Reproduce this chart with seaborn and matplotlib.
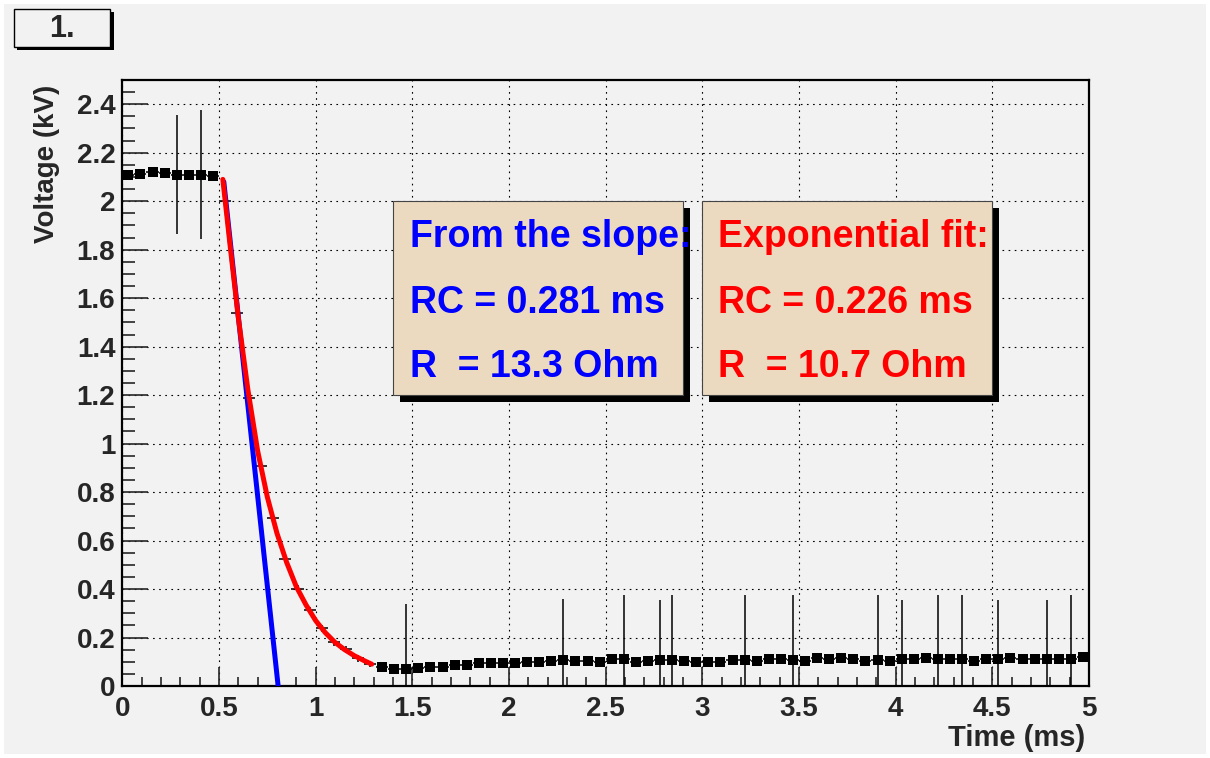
import numpy as np
import matplotlib
matplotlib.use("Agg")
import matplotlib.pyplot as plt
from matplotlib.patches import Rectangle
from matplotlib.ticker import MultipleLocator, FuncFormatter
import seaborn as sns

# histogram binning: 80 bins of 0.0625 ms between 0 and 5 ms
bin_width = 0.0625
n_bins = 80

# measured voltage per bin (kV)
voltage = [2.107, 2.114, 2.121, 2.117, 2.110, 2.110, 2.110, 2.103,
           2.000, 1.540, 1.190, 0.907, 0.692, 0.524, 0.401, 0.313, 0.238,
           0.180, 0.151, 0.114, 0.091,
           0.077, 0.069, 0.069, 0.073, 0.080, 0.080, 0.087, 0.087, 0.094, 0.096,
           0.094, 0.096, 0.100, 0.100, 0.103, 0.107, 0.103, 0.103, 0.099, 0.110,
           0.110, 0.099, 0.104, 0.109, 0.109, 0.104, 0.099, 0.100, 0.100, 0.107,
           0.109, 0.103, 0.113, 0.113, 0.109, 0.104, 0.114, 0.110, 0.114, 0.111,
           0.104, 0.109, 0.104, 0.110, 0.110, 0.114, 0.110, 0.110, 0.110, 0.104,
           0.110, 0.110, 0.114, 0.110, 0.113, 0.110, 0.113, 0.110, 0.120]

# bins with large error bars and their half-size (kV)
spike_bins = [4, 6, 23, 36, 41, 44, 45, 51, 55, 62, 64, 67, 69, 72, 76, 78]
spike_err = [0.245, 0.265, 0.27, 0.25, 0.265, 0.245, 0.265, 0.265, 0.265,
             0.265, 0.245, 0.265, 0.265, 0.245, 0.245, 0.265]
base_err = 0.014

# bins covered by the fit (drawn without square marker)
fit_bins = list(range(8, 21))

# exponential fit curve
fit_t = [0.52, 0.56, 0.60, 0.65, 0.70, 0.75, 0.80, 0.85, 0.90, 0.95,
         1.00, 1.05, 1.10, 1.15, 1.20, 1.25, 1.29]
fit_v = [2.09, 1.80, 1.52, 1.22, 0.97, 0.78, 0.63, 0.51, 0.41, 0.335,
         0.27, 0.22, 0.18, 0.15, 0.125, 0.105, 0.09]

# tangent (slope) line
slope_t = [0.525, 0.806]
slope_v = [2.08, 0.0]

bg = "#f2f2f2"
sns.set_style("ticks")
plt.rcParams["font.family"] = ["Liberation Sans", "DejaVu Sans"]
plt.rcParams["font.weight"] = "bold"

times = np.arange(n_bins) * bin_width + bin_width / 2
v = np.array(voltage)
yerr = np.full(n_bins, base_err)
yerr[spike_bins] = spike_err

fig = plt.figure(figsize=(12.1, 7.58), dpi=100, facecolor="white")
fig.patches.append(Rectangle((4 / 1210, 4 / 758), 1202 / 1210, 750 / 758,
                             transform=fig.transFigure, facecolor=bg,
                             edgecolor="none", zorder=-10))
ax = fig.add_axes([122.3 / 1210, 72 / 758, (1089 - 122.3) / 1210, 606 / 758])
ax.set_facecolor(bg)

# error bars
ax.errorbar(times, v, xerr=bin_width / 2, yerr=yerr, fmt="none",
            ecolor="black", elinewidth=1.1, capsize=0, zorder=3)
# square markers outside the fit range
mask = np.ones(n_bins, dtype=bool)
mask[fit_bins] = False
sns.scatterplot(x=times[mask], y=v[mask], marker="s", s=42, color="black",
                edgecolor="black", linewidth=0, ax=ax, zorder=4)

sns.lineplot(x=slope_t, y=slope_v, color="#0000ff", linewidth=3.6, ax=ax,
             zorder=5, sort=False)
sns.lineplot(x=fit_t, y=fit_v, color="#ff0000", linewidth=3.6, ax=ax,
             zorder=6, sort=False)

ax.set_xlim(0, 5)
ax.set_ylim(0, 2.5)
ax.xaxis.set_major_locator(MultipleLocator(0.5))
ax.xaxis.set_minor_locator(MultipleLocator(0.1))
ax.yaxis.set_major_locator(MultipleLocator(0.2))
ax.yaxis.set_minor_locator(MultipleLocator(0.05))
ax.xaxis.set_major_formatter(FuncFormatter(lambda x, p: f"{x:g}"))
ax.yaxis.set_major_formatter(FuncFormatter(lambda x, p: f"{x:g}"))
ax.tick_params(axis="x", which="major", direction="in", length=14, width=1.2,
               labelsize=20, pad=7)
ax.tick_params(axis="x", which="minor", direction="in", length=6.5, width=1.2)
ax.tick_params(axis="y", which="major", direction="in", length=19, width=1.2,
               labelsize=20, pad=5)
ax.tick_params(axis="y", which="minor", direction="in", length=9.5, width=1.2)
for lab in ax.get_xticklabels() + ax.get_yticklabels():
    lab.set_fontweight("bold")
ax.grid(True, which="major", color="black", linestyle=(0, (1.5, 4)),
        linewidth=0.8)
for sp in ax.spines.values():
    sp.set_linewidth(1.6)
    sp.set_color("black")
ax.set_xlabel("")
ax.set_ylabel("")

# text boxes with shadows
sx, sy = 0.036, 0.029
boxes = [
    (1.40, 2.90, "#0000ff", ["From the slope:", "RC = 0.281 ms", "R  = 13.3 Ohm"], 1.49),
    (3.00, 4.50, "#ff0000", ["Exponential fit:", "RC = 0.226 ms", "R  = 10.7 Ohm"], 3.08),
]
for x0, x1, col, lines, tx in boxes:
    ax.add_patch(Rectangle((x0 + sx, 1.2 - sy), x1 - x0, 0.8, facecolor="black",
                           edgecolor="none", zorder=7))
    ax.add_patch(Rectangle((x0, 1.2), x1 - x0, 0.8, facecolor="#ecdac0",
                           edgecolor="#444444", linewidth=0.8, zorder=8))
    for yy, s in zip([1.853, 1.579, 1.317], lines):
        ax.text(tx, yy, s, color=col, fontsize=27, fontweight="bold",
                ha="left", va="center", zorder=9)

# axis titles
fig.text(47 / 1210, 1 - 85 / 758, "Voltage (kV)", rotation=90, ha="center",
         va="top", fontsize=20, fontweight="bold")
fig.text(1085 / 1210, 1 - 738 / 758, "Time (ms)", ha="right", va="center",
         fontsize=21, fontweight="bold")

# pad title "1."
fig.patches.append(Rectangle((17 / 1210, 1 - 50 / 758), 97 / 1210, 38 / 758,
                             transform=fig.transFigure, facecolor="black",
                             edgecolor="none", zorder=1))
fig.patches.append(Rectangle((13.5 / 1210, 1 - 47 / 758), 97 / 1210, 38 / 758,
                             transform=fig.transFigure, facecolor=bg,
                             edgecolor="black", linewidth=1.0, zorder=2))
fig.text(62 / 1210, 1 - 29 / 758, "1.", ha="center", va="center",
         fontsize=22, fontweight="bold", zorder=3)

fig.savefig("out.png", dpi=100, facecolor=fig.get_facecolor())
